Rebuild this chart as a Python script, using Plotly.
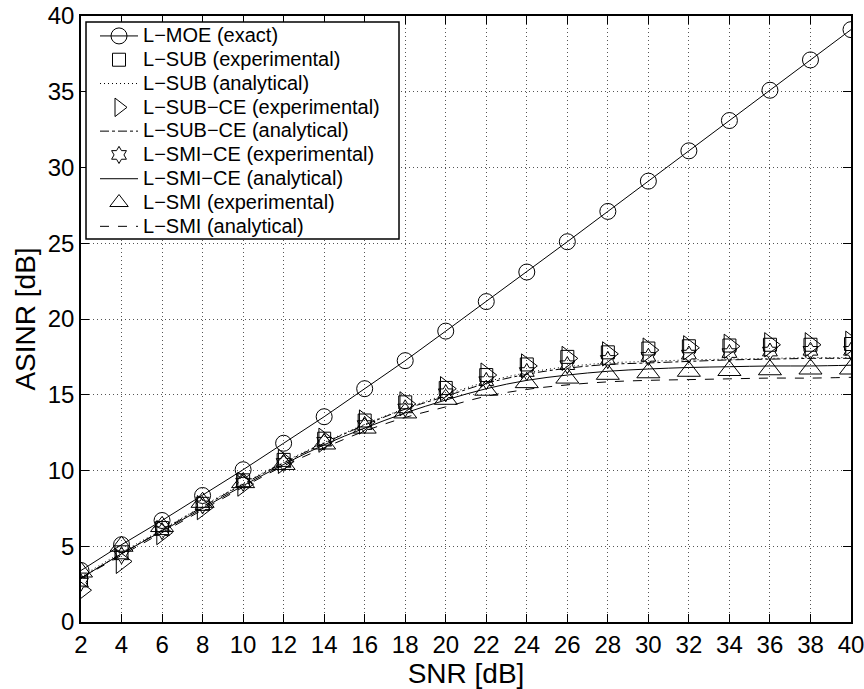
import plotly.graph_objects as go

# SNR grid (dB)
snr = [2, 4, 6, 8, 10, 12, 14, 16, 18, 20, 22, 24, 26, 28, 30, 32, 34, 36, 38, 40]

# ASINR (dB) for each beamformer
moe_exact = [3.4, 5.1, 6.7, 8.35, 10.05, 11.8, 13.55, 15.4, 17.25, 19.2,
             21.15, 23.1, 25.1, 27.1, 29.1, 31.1, 33.1, 35.1, 37.1, 39.1]
sub_exp = [2.8, 4.6, 6.2, 7.8, 9.35, 10.7, 12.1, 13.3, 14.5, 15.45,
           16.3, 17.0, 17.5, 17.8, 18.05, 18.2, 18.25, 18.3, 18.3, 18.35]
sub_ana = [3.0, 4.6, 6.1, 7.65, 9.15, 10.55, 11.85, 13.05, 14.1, 15.0,
           15.85, 16.45, 16.85, 17.1, 17.2, 17.3, 17.35, 17.4, 17.45, 17.45]
subce_exp = [2.1, 4.0, 5.9, 7.55, 9.1, 10.6, 12.0, 13.2, 14.4, 15.4,
             16.3, 16.9, 17.4, 17.7, 17.95, 18.1, 18.2, 18.3, 18.3, 18.4]
subce_ana = [2.9, 4.5, 6.05, 7.6, 9.1, 10.5, 11.8, 13.0, 14.05, 14.9,
             15.75, 16.35, 16.75, 17.0, 17.1, 17.2, 17.3, 17.35, 17.4, 17.4]
smice_exp = [2.6, 4.4, 6.0, 7.7, 9.2, 10.5, 11.9, 13.0, 14.1, 15.1,
             15.9, 16.5, 16.95, 17.3, 17.5, 17.65, 17.75, 17.85, 17.9, 17.9]
smice_ana = [2.9, 4.5, 6.0, 7.5, 9.0, 10.4, 11.7, 12.8, 13.8, 14.65,
             15.4, 15.95, 16.3, 16.55, 16.7, 16.8, 16.85, 16.9, 16.9, 16.95]
smi_exp = [3.3, 5.0, 6.3, 7.9, 9.2, 10.4, 11.75, 12.8, 13.8, 14.7,
           15.3, 15.8, 16.1, 16.35, 16.45, 16.55, 16.6, 16.65, 16.7, 16.7]
smi_ana = [2.9, 4.4, 5.9, 7.4, 8.9, 10.3, 11.5, 12.6, 13.5, 14.2,
           14.9, 15.35, 15.65, 15.85, 15.95, 16.0, 16.05, 16.1, 16.1, 16.15]

x_ticks = list(range(2, 41, 2))
y_ticks = list(range(0, 41, 5))

FONT = "Liberation Sans, Arial, Helvetica, sans-serif"
BLACK = "black"


def label(text):
    return f'<span style="font-size:20px">{text}</span>'


fig = go.Figure()

# exact curve: solid line with open circles
fig.add_trace(go.Scatter(
    x=snr, y=moe_exact, mode="lines+markers", name=label("L−MOE (exact)"),
    line=dict(color=BLACK, width=1),
    marker=dict(symbol="circle-open", size=16, color=BLACK, line=dict(width=1)),
))
fig.add_trace(go.Scatter(
    x=snr, y=sub_exp, mode="markers", name=label("L−SUB (experimental)"),
    marker=dict(symbol="square-open", size=13, color=BLACK, line=dict(width=1)),
))
fig.add_trace(go.Scatter(
    x=snr, y=sub_ana, mode="lines", name=label("L−SUB (analytical)"),
    line=dict(color=BLACK, width=1, dash="1px,3px", shape="spline"),
))
fig.add_trace(go.Scatter(
    x=snr, y=subce_exp, mode="markers", name=label("L−SUB−CE (experimental)"),
    marker=dict(symbol="triangle-right-open", size=21, color=BLACK, line=dict(width=1)),
))
fig.add_trace(go.Scatter(
    x=snr, y=subce_ana, mode="lines", name=label("L−SUB−CE (analytical)"),
    line=dict(color=BLACK, width=1, dash="dashdot", shape="spline"),
))
fig.add_trace(go.Scatter(
    x=snr, y=smice_exp, mode="markers", name=label("L−SMI−CE (experimental)"),
    marker=dict(symbol="hexagram-open", size=13, color=BLACK, line=dict(width=1)),
))
fig.add_trace(go.Scatter(
    x=snr, y=smice_ana, mode="lines", name=label("L−SMI−CE (analytical)"),
    line=dict(color=BLACK, width=1, shape="spline"),
))
fig.add_trace(go.Scatter(
    x=snr, y=smi_exp, mode="markers", name=label("L−SMI (experimental)"),
    marker=dict(symbol="triangle-up-open", size=20, color=BLACK, line=dict(width=1)),
))
fig.add_trace(go.Scatter(
    x=snr, y=smi_ana, mode="lines", name=label("L−SMI (analytical)"),
    line=dict(color=BLACK, width=1, dash="dash", shape="spline"),
))

axis_common = dict(
    showline=True, linecolor=BLACK, linewidth=1.5, mirror="allticks",
    ticks="inside", ticklen=8, tickwidth=1, tickcolor=BLACK,
    showgrid=True, gridcolor="#555", gridwidth=1, griddash="1px,3px",
    zeroline=False, automargin=False, ticklabeloverflow="allow",
    tickfont=dict(family=FONT, size=24, color=BLACK),
)

fig.update_xaxes(
    range=[2, 40], tickvals=x_ticks, ticktext=[str(v) for v in x_ticks],
    title=dict(text="SNR [dB]", font=dict(family=FONT, size=28, color=BLACK), standoff=2),
    **axis_common,
)
fig.update_yaxes(
    range=[0, 40], tickvals=y_ticks, ticktext=[str(v) for v in y_ticks],
    title=dict(text="ASINR [dB]", font=dict(family=FONT, size=28, color=BLACK), standoff=4),
    **axis_common,
)

# legend frame drawn as a paper-space rectangle under the legend entries
fig.add_shape(
    type="rect", xref="paper", yref="paper",
    x0=0.0065, x1=0.413, y0=0.632, y1=0.9901,
    line=dict(color=BLACK, width=1.5), fillcolor="white", layer="above",
)

fig.update_layout(
    width=864, height=689,
    margin=dict(l=81, r=13, t=16, b=67),
    paper_bgcolor="white", plot_bgcolor="white",
    font=dict(family=FONT, color=BLACK),
    showlegend=True,
    legend=dict(
        x=0.0182, y=0.995, xanchor="left", yanchor="top",
        bgcolor="rgba(0,0,0,0)", borderwidth=0,
        font=dict(family=FONT, size=16, color=BLACK),
        itemwidth=38, tracegroupgap=0,
    ),
)

fig.write_html("out.html")
